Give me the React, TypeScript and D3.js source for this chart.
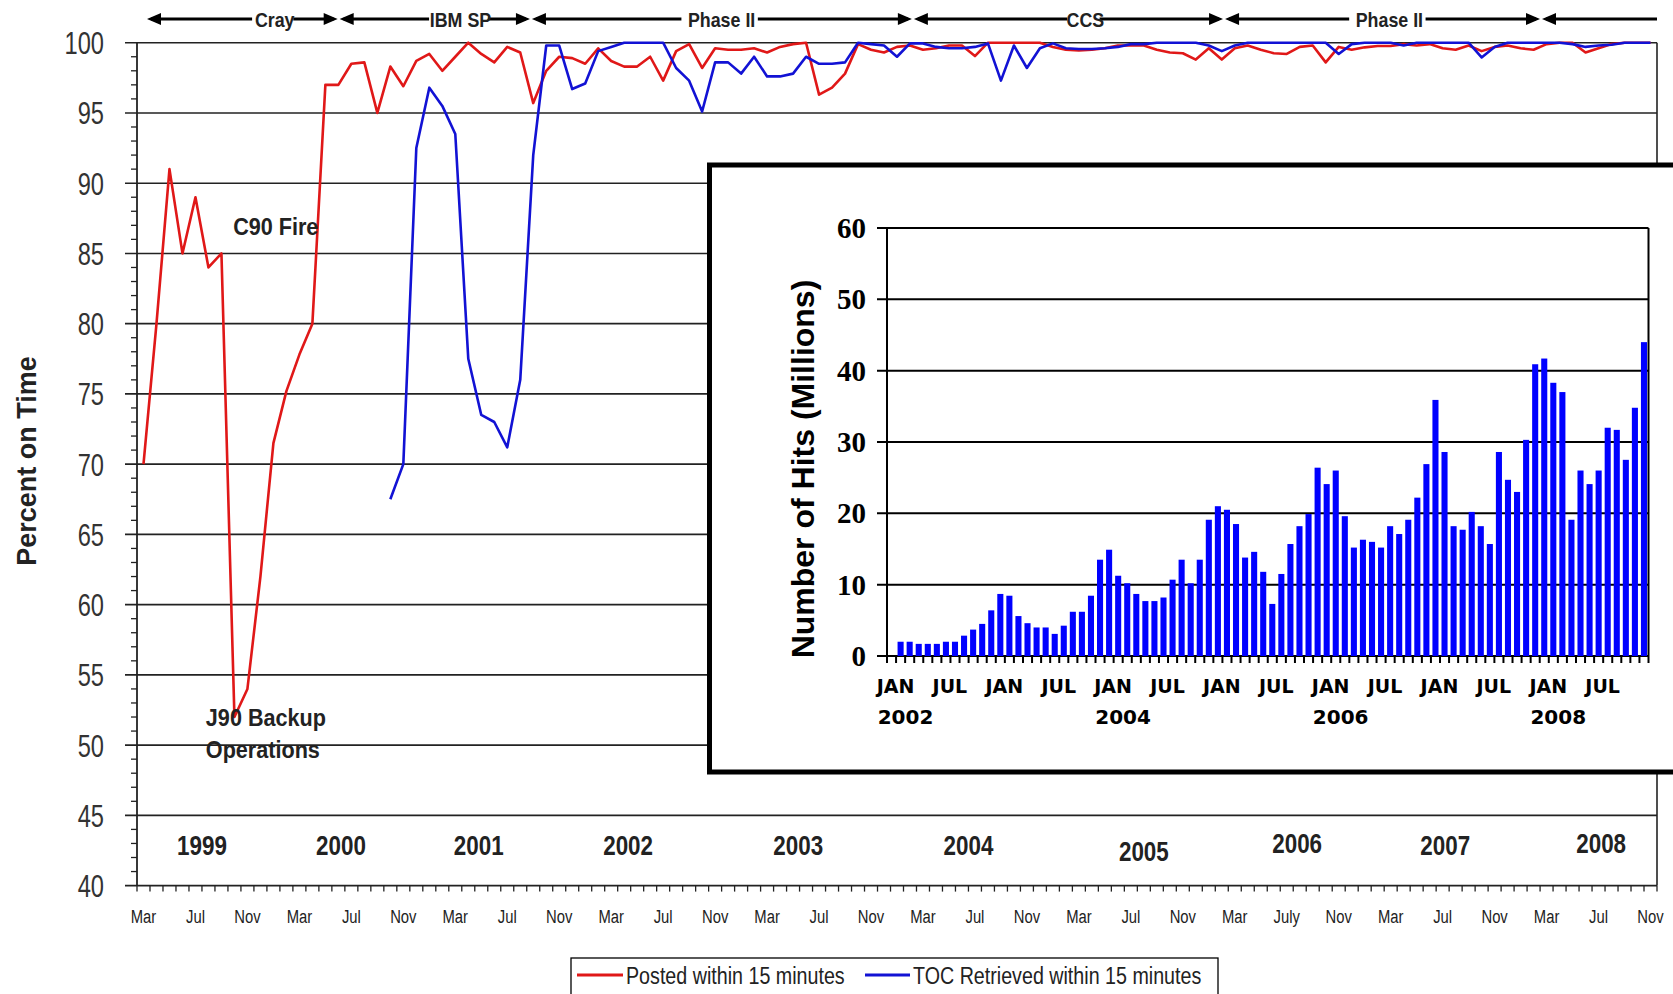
import React from "react";
import * as d3 from "d3";

// ---- main chart: percent on time, monthly Mar 1999 .. Nov 2008 ----
const posted = [
  70, 80, 91, 85, 89, 84, 85, 52, 54, 62, 71.5, 75.2, 77.8, 80, 97, 97, 98.5, 98.6, 95, 98.3,
  96.9, 98.7, 99.2, 98, 99, 100, 99.2, 98.6, 99.7, 99.3, 95.7, 98.0, 99.0, 98.9, 98.5, 99.6, 98.7, 98.3, 98.3, 99.0,
  97.3, 99.4, 99.9, 98.2, 99.6, 99.5, 99.5, 99.6, 99.3, 99.7, 99.9, 100, 96.3, 96.8, 97.8, 99.9, 99.5, 99.3, 99.7, 99.8,
  99.5, 99.6, 99.8, 99.8, 99.05, 100, 100, 100, 100, 100, 99.7, 99.5, 99.45, 99.5, 99.6, 99.8, 99.8, 99.8, 99.5, 99.3,
  99.25, 98.8, 99.6, 98.8, 99.6, 99.8, 99.5, 99.25, 99.2, 99.7, 99.8, 98.6, 99.7, 99.5, 99.67, 99.76, 99.76, 99.9, 99.8, 99.9,
  99.6, 99.5, 99.8, 99.4, 99.7, 99.8, 99.6, 99.5, 99.9, 100, 100, 99.3, 99.6, 99.9, 100, 100, 100,
];

const tocRetrieved = [
  null, null, null, null, null, null, null, null, null, null, null, null, null, null, null, null, null, null, null, 67.5,
  70, 92.5, 96.8, 95.5, 93.5, 77.5, 73.5, 73, 71.2, 76, 92, 99.8, 99.8, 96.7, 97.1, 99.4, 99.7, 100, 100, 100,
  100, 98.2, 97.3, 95.1, 98.6, 98.6, 97.8, 99.0, 97.6, 97.6, 97.8, 99.0, 98.5, 98.5, 98.6, 100, 99.9, 99.8, 99.0, 99.95,
  99.95, 99.7, 99.6, 99.6, 99.7, 99.95, 97.3, 99.8, 98.2, 99.6, 99.95, 99.6, 99.55, 99.55, 99.6, 99.7, 99.9, 99.9, 100, 100,
  100, 100, 99.8, 99.4, 99.8, 100, 100, 100, 100, 100, 100, 100, 99.2, 99.9, 100, 100, 100, 99.8, 100, 100,
  100, 100, 100, 98.95, 99.7, 100, 100, 100, 100, 100, 99.9, 99.7, 99.8, 99.85, 100, 100, 100,
];

const monthLabels = [
  "Mar", "Jul", "Nov", "Mar", "Jul", "Nov", "Mar", "Jul", "Nov", "Mar",
  "Jul", "Nov", "Mar", "Jul", "Nov", "Mar", "Jul", "Nov", "Mar", "Jul",
  "Nov", "Mar", "July", "Nov", "Mar", "Jul", "Nov", "Mar", "Jul", "Nov",
];

const yearLabels = ["1999", "2000", "2001", "2002", "2003", "2004", "2005", "2006", "2007", "2008"];
// [month index, percent level] where each year label sits
const yearLabelAt = [
  [4.5, 42.9], [15.2, 42.9], [25.8, 42.9], [37.3, 42.9], [50.4, 42.9],
  [63.5, 42.9], [77.0, 42.45], [88.8, 43.05], [100.2, 42.9], [112.2, 43.05],
];

const phaseNames = ["Cray", "IBM SP", "Phase II", "CCS", "Phase II", ""];
const phaseBounds = [0.27, 15.1, 29.9, 59.3, 83.25, 107.65, 116.5];
const phaseLabelAt = [10.1, 24.4, 44.5, 72.5, 95.9, 0];

const notes = [
  { text: "C90 Fire", month: 6.9, level: 86.9 },
  { text: "J90 Backup", month: 4.8, level: 51.95 },
  { text: "Operations", month: 4.8, level: 49.7 },
];

// ---- inset: monthly hits (millions), Jan 2002 .. Dec 2008 ----
const hits = [
  0, 2.0, 2.0, 1.7, 1.7, 1.7, 2.0, 2.0, 2.85, 3.7, 4.5, 6.4,
  8.7, 8.45, 5.6, 4.6, 4.0, 4.0, 3.1, 4.25, 6.2, 6.2, 8.45, 13.5,
  14.9, 11.25, 10.2, 8.7, 7.7, 7.7, 8.2, 10.7, 13.5, 10.2, 13.5, 19.1,
  21.0, 20.5, 18.5, 13.8, 14.6, 11.8, 7.3, 11.5, 15.7, 18.2, 19.9, 26.4,
  24.1, 26.0, 19.6, 15.2, 16.3, 16.0, 15.2, 18.2, 17.1, 19.1, 22.2, 26.9,
  35.9, 28.6, 18.2, 17.7, 20.2, 18.2, 15.7, 28.6, 24.7, 23.0, 30.3, 40.9,
  41.7, 38.3, 37.0, 19.1, 26.0, 24.1, 26.0, 32.0, 31.7, 27.5, 34.8, 44.0,
];
const insetMonthLabels = ["JAN", "JUL"];
const insetYears = ["2002", "2004", "2006", "2008"];

const SANS = "'Liberation Sans', Arial, sans-serif";
const VERD = "'DejaVu Sans', Verdana, sans-serif";

const W = 1673;
const H = 994;

// condensed text: no narrow face installed, so squeeze horizontally
const Narrow = ({ x, y, sx = 0.8, anchor = "start", size, weight = "normal", fill = "#222", children }: any) => (
  <g transform={`translate(${x},${y}) scale(${sx},1)`}>
    <text x={0} y={0} dy="0.36em" textAnchor={anchor} fontFamily={SANS} fontSize={size} fontWeight={weight} fill={fill}>
      {children}
    </text>
  </g>
);

export default function App() {
  const x = d3.scaleLinear().domain([-0.5, 116.5]).range([137, 1657]);
  const y = d3.scaleLinear().domain([40, 100]).range([885.6, 42.7]);

  const line = d3
    .line<number | null>()
    .defined((d) => d != null)
    .x((_, i) => x(i))
    .y((d) => y(d as number));

  const xi = d3.scaleBand<number>().domain(d3.range(hits.length)).range([887, 1648.5]).paddingInner(0.33).paddingOuter(0.165);
  const step = xi.step();
  const x0 = 887;
  const yi = d3.scaleLinear().domain([0, 60]).range([656, 228]);

  const arrowY = 19;
  const head = (tip: number, dir: number) =>
    `M${tip},${arrowY} L${tip + dir * 14},${arrowY - 6} L${tip + dir * 14},${arrowY + 6} Z`;

  return (
    <svg width={W} height={H} style={{ position: "absolute", left: 0, top: 0, background: "#fff" }}>
      {/* main gridlines */}
      {d3.range(40, 101, 5).map((v) => (
        <line key={"g" + v} x1={125} x2={1657} y1={y(v)} y2={y(v)} stroke="#222" strokeWidth={1.6} />
      ))}
      {d3.range(40, 101, 1).filter((v) => v % 5 !== 0).map((v) => (
        <line key={"m" + v} x1={131} x2={137} y1={y(v)} y2={y(v)} stroke="#222" strokeWidth={1.3} />
      ))}
      <line x1={137} x2={137} y1={y(100)} y2={y(40)} stroke="#222" strokeWidth={1.8} />
      <line x1={1657} x2={1657} y1={y(100)} y2={y(40)} stroke="#222" strokeWidth={1.6} />
      {d3.range(0, 118).map((k) => (
        <line key={"xt" + k} x1={x(k - 0.5)} x2={x(k - 0.5)} y1={y(40)} y2={y(40) + 6} stroke="#222" strokeWidth={1.3} />
      ))}
      {d3.range(40, 101, 5).map((v) => (
        <Narrow key={"yl" + v} x={104} y={y(v)} sx={0.74} anchor="end" size={32} fill="#333">
          {v}
        </Narrow>
      ))}
      {monthLabels.map((m, i) => (
        <Narrow key={"ml" + i} x={x(i * 4)} y={916} sx={0.78} anchor="middle" size={19}>
          {m}
        </Narrow>
      ))}
      {yearLabels.map((t, i) => (
        <Narrow key={"yr" + t} x={x(yearLabelAt[i][0])} y={y(yearLabelAt[i][1])} sx={0.8} anchor="middle" size={28} weight="bold">
          {t}
        </Narrow>
      ))}
      <text transform="translate(36,461) rotate(-90)" textAnchor="middle" fontFamily={SANS} fontWeight="bold" fontSize={27} fill="#222">
        Percent on Time
      </text>

      {/* data lines */}
      <path d={line(posted) || ""} fill="none" stroke="#e01818" strokeWidth={2.6} strokeLinejoin="round" />
      <path d={line(tocRetrieved) || ""} fill="none" stroke="#1212d4" strokeWidth={2.6} strokeLinejoin="round" />

      {notes.map((n) => (
        <Narrow key={n.text} x={x(n.month)} y={y(n.level)} sx={0.9} size={24} weight="bold">
          {n.text}
        </Narrow>
      ))}

      {/* system phases above the plot */}
      {phaseNames.map((p, i) => {
        const a = x(phaseBounds[i]);
        const last = i === phaseNames.length - 1;
        const b = last ? 1657 : x(phaseBounds[i + 1]) - 2;
        const tx = x(phaseLabelAt[i]);
        const tw = p.length * 8.8;
        return (
          <g key={"ph" + i}>
            <line x1={a + 4} x2={last ? b : b - 4} y1={arrowY} y2={arrowY} stroke="#000" strokeWidth={2.8} />
            <path d={head(a, 1)} fill="#000" />
            {!last && <path d={head(b, -1)} fill="#000" />}
            {p && (
              <>
                <rect x={tx - tw / 2 - 5} y={arrowY - 10} width={tw + 6} height={20} fill="#fff" />
                <Narrow x={tx} y={arrowY} sx={0.85} anchor="middle" size={21} weight="bold">
                  {p}
                </Narrow>
              </>
            )}
          </g>
        );
      })}

      {/* inset panel */}
      <rect x={709.5} y={165} width={1100} height={607} fill="#fff" stroke="#000" strokeWidth={5} />
      {d3.range(0, 61, 10).map((v) => (
        <g key={"ig" + v}>
          <line x1={877} x2={1648.5} y1={yi(v)} y2={yi(v)} stroke="#000" strokeWidth={2} />
          <text x={866} y={yi(v)} dy="0.35em" textAnchor="end" fontFamily="'Liberation Serif', 'Times New Roman', serif"
            fontWeight="bold" fontSize={29} fill="#000">
            {v}
          </text>
        </g>
      ))}
      <line x1={x0} x2={x0} y1={yi(60)} y2={yi(0)} stroke="#000" strokeWidth={2} />
      <line x1={1648.5} x2={1648.5} y1={yi(60)} y2={yi(0)} stroke="#000" strokeWidth={2} />
      {hits.map((h, i) => (
        <rect key={"b" + i} x={xi(i)} y={yi(h)} width={xi.bandwidth()} height={yi(0) - yi(h)} fill="#0000ff" />
      ))}
      {d3.range(0, hits.length + 1).map((k) => (
        <line key={"it" + k} x1={x0 + k * step} x2={x0 + k * step} y1={yi(0)} y2={yi(0) + 7} stroke="#000" strokeWidth={2} />
      ))}
      {d3.range(0, hits.length, 6).map((k, j) => (
        <text key={"il" + k} x={(xi(k) as number) + xi.bandwidth() / 2 + 4} y={686} dy="0.36em" textAnchor="middle"
          fontFamily={VERD} fontWeight="bold" fontSize={19} fill="#000">
          {insetMonthLabels[j % 2]}
        </text>
      ))}
      {insetYears.map((t, j) => (
        <text key={"iy" + t} x={(xi(j * 24) as number) + xi.bandwidth() / 2 + 14} y={717} dy="0.36em" textAnchor="middle"
          fontFamily={VERD} fontWeight="bold" fontSize={20} fill="#000">
          {t}
        </text>
      ))}
      <text transform="translate(814,469) rotate(-90)" textAnchor="middle" fontFamily={SANS} fontWeight="bold" fontSize={32} fill="#000">
        Number of Hits (Millions)
      </text>

      {/* legend */}
      <rect x={571} y={958} width={647} height={60} fill="#fff" stroke="#000" strokeWidth={1.3} />
      <line x1={577} x2={623} y1={975} y2={975} stroke="#e01818" strokeWidth={3} />
      <Narrow x={626} y={975} sx={0.82} size={24}>
        Posted within 15 minutes
      </Narrow>
      <line x1={865} x2={910} y1={975} y2={975} stroke="#1212d4" strokeWidth={3} />
      <Narrow x={913} y={975} sx={0.82} size={24}>
        TOC Retrieved within 15 minutes
      </Narrow>
    </svg>
  );
}
